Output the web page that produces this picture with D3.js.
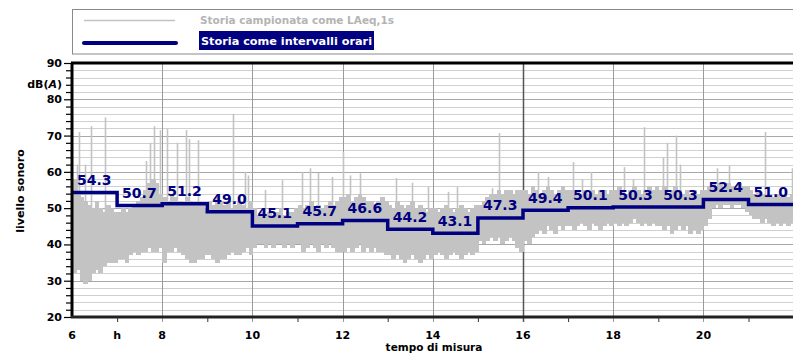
<!DOCTYPE html>
<html>
<head>
<meta charset="utf-8">
<script src="https://cdn.jsdelivr.net/npm/d3@7"></script>
<style>
  html, body { margin: 0; padding: 0; background: #fff; }
  svg { display: block; }
  text { font-family: "DejaVu Sans", Verdana, sans-serif; font-weight: bold; }
</style>
</head>
<body>
<script>
// Hourly equivalent levels, dB(A), one per hour starting at 6h
const hourStarts = [6, 7, 8, 9, 10, 11, 12, 13, 14, 15, 16, 17, 18, 19, 20, 21];
const hourlyLeq = [54.3, 50.7, 51.2, 49.0, 45.1, 45.7, 46.6, 44.2, 43.1, 47.3, 49.4, 50.1, 50.3, 50.3, 52.4, 51.0];

// 1 s history summarised in 5-minute slices: upper and lower envelope (dB)
const bandHigh = [
  58, 54, 53, 52, 51, 50, 52, 50, 49, 51, 50, 49,
  49, 50, 49, 50, 51, 52, 53, 55, 57, 58, 57, 54,
  53, 52, 54, 53, 52, 51, 53, 52, 51, 52, 51, 50,
  52, 51, 53, 52, 51, 52, 50, 51, 52, 51, 50, 52,
  50, 48, 49, 48, 49, 48, 49, 50, 48, 49, 49, 50,
  51, 50, 51, 52, 50, 51, 50, 51, 52, 51, 52, 53,
  53, 54, 52, 53, 54, 53, 52, 52, 51, 52, 53, 52,
  51, 50, 52, 51, 50, 51, 52, 50, 51, 50, 49, 50,
  50, 49, 50, 51, 50, 49, 50, 51, 50, 49, 50, 51,
  51, 52, 53, 54, 54, 55, 54, 55, 55, 54, 55, 55,
  55, 54, 56, 55, 54, 55, 56, 55, 54, 55, 56, 55,
  55, 54, 55, 54, 55, 54, 55, 54, 55, 55, 54, 55,
  55, 56, 55, 54, 55, 56, 55, 54, 55, 56, 55, 56,
  55, 56, 54, 55, 56, 55, 54, 55, 54, 55, 54, 55,
  55, 56, 57, 56, 57, 56, 57, 56, 56, 57, 56, 56,
  55, 54, 55, 54, 53, 54, 53, 54, 53, 54, 53, 54
];
const bandLow = [
  32, 33, 30, 29, 30, 32, 33, 32, 34, 35, 35, 35,
  36, 36, 35, 37, 38, 37, 38, 38, 39, 38, 38, 39,
  35, 38, 38, 39, 38, 37, 36, 35, 35, 36, 36, 37,
  37, 36, 35, 36, 36, 37, 38, 37, 37, 38, 39, 37,
  39, 40, 40, 39, 40, 39, 40, 40, 39, 40, 39, 40,
  40, 38, 39, 40, 39, 38, 40, 39, 40, 39, 38, 38,
  38, 39, 38, 39, 40, 38, 39, 38, 39, 38, 38, 37,
  37, 36, 37, 36, 35, 36, 37, 36, 35, 36, 37, 36,
  37, 38, 37, 36, 37, 38, 37, 36, 37, 38, 37, 38,
  41, 40, 41, 42, 41, 42, 40, 41, 42, 41, 39, 38,
  41, 40, 42, 43, 44, 43, 45, 44, 43, 45, 44, 45,
  45, 44, 45, 46, 45, 44, 46, 45, 44, 45, 46, 45,
  46, 45, 46, 45, 46, 47, 46, 45, 46, 45, 46, 45,
  45, 44, 45, 43, 44, 45, 44, 45, 43, 44, 43, 44,
  45, 47, 50, 51, 50, 51, 51, 50, 51, 51, 50, 49,
  48, 47, 47, 46, 47, 46, 45, 46, 45, 46, 45, 46
];

// Short loud events in the 1 s history (time in hours, level in dB)
const spikeTimes = [6.04, 6.11, 6.155, 6.29, 6.42, 6.73, 7.64, 7.73, 7.82, 7.95, 8.11, 8.33, 8.53, 8.59, 8.79,
  9.57, 9.84, 9.90, 10.28, 10.66, 11.10, 11.28, 11.45, 11.76, 12.01, 12.16, 12.39, 13.18, 13.54, 13.89,
  14.34, 14.54, 15.31, 15.47, 16.33, 16.55, 17.11, 17.31, 17.51, 18.24, 18.44, 18.68, 19.10, 19.19,
  19.39, 19.48, 20.30, 20.57, 21.37, 21.96];
const spikeLevels = [58, 62, 71, 62, 72.6, 75, 63, 68, 72.6, 71.5, 71.8, 68, 71.5, 69, 68.7,
  76, 60, 59, 55, 57.7, 60, 61, 59.7, 58.6, 65.5, 59, 59.6, 58.3, 57, 56,
  54.5, 55.8, 55.5, 70.7, 60, 58.6, 62.7, 58, 60, 61.3, 58, 72.3, 64, 68,
  70, 62, 61, 61.8, 71, 61];

// Axis ticks
const yTickValues = [20, 30, 40, 50, 60, 70, 80, 90];
const xTickValues = [6, 7, 8, 10, 12, 14, 16, 18, 20];
const xTickLabels = ["6", "h", "8", "10", "12", "14", "16", "18", "20"];

const W = 793, H = 354;
const plotLeft = 72, plotRight = 793.6, plotTop = 63, plotBottom = 317;

const svg = d3.select("body").append("svg").attr("width", W).attr("height", H);

const x = d3.scaleLinear().domain([6, 22]).range([plotLeft, plotRight]);
const y = d3.scaleLinear().domain([20, 90]).range([plotBottom, plotTop]);

svg.append("defs").append("clipPath").attr("id", "plot")
  .append("rect").attr("x", plotLeft).attr("y", plotTop).attr("width", W - plotLeft).attr("height", plotBottom - plotTop);

// Grid
const grid = svg.append("g");
grid.selectAll("line.hy").data(d3.range(22, 90, 2).filter(v => v % 10 !== 0))
  .join("line")
  .attr("x1", plotLeft).attr("x2", W)
  .attr("y1", d => Math.round(y(d)) + 0.5).attr("y2", d => Math.round(y(d)) + 0.5)
  .attr("stroke", "#d0d0d0").attr("stroke-width", 1);
grid.selectAll("line.hy10").data(yTickValues.slice(1, -1))
  .join("line")
  .attr("x1", plotLeft).attr("x2", W)
  .attr("y1", d => Math.round(y(d)) + 0.5).attr("y2", d => Math.round(y(d)) + 0.5)
  .attr("stroke", "#a8a8a8").attr("stroke-width", 1);
grid.selectAll("line.vx").data(d3.range(8, 22, 2))
  .join("line")
  .attr("x1", d => Math.round(x(d)) + 0.5).attr("x2", d => Math.round(x(d)) + 0.5)
  .attr("y1", plotTop).attr("y2", plotBottom + 5)
  .attr("stroke", d => d === 16 ? "#555" : "#9a9a9a")
  .attr("stroke-width", d => d === 16 ? 1.5 : 1);

// 1 s history: envelope slices and spikes
const hist = svg.append("g").attr("clip-path", "url(#plot)");
hist.selectAll("rect").data(bandHigh)
  .join("rect")
  .attr("shape-rendering", "crispEdges")
  .attr("x", (d, i) => x(6 + i / 12))
  .attr("width", (d, i) => x(6 + (i + 1) / 12) - x(6 + i / 12) + 1)
  .attr("y", d => y(d))
  .attr("height", (d, i) => y(bandLow[i]) - y(d))
  .attr("fill", "#c3c3c3");
hist.selectAll("line").data(spikeTimes)
  .join("line")
  .attr("x1", d => Math.round(x(d)) + 0.5).attr("x2", d => Math.round(x(d)) + 0.5)
  .attr("y1", (d, i) => y(spikeLevels[i]))
  .attr("y2", (d, i) => y(d3.min([bandHigh[Math.floor((d - 6) * 12)], spikeLevels[i]])) + 2)
  .attr("stroke", "#c3c3c3").attr("stroke-width", 1.6);

// Hourly step line
const stepData = hourStarts.map((h, i) => [h, hourlyLeq[i]]).concat([[22, hourlyLeq[hourlyLeq.length - 1]]]);
svg.append("path")
  .attr("clip-path", "url(#plot)")
  .attr("d", d3.line().x(d => x(d[0])).y(d => y(d[1])).curve(d3.curveStepAfter)(stepData))
  .attr("fill", "none").attr("stroke", "#000080").attr("stroke-width", 3.5);

svg.append("g").selectAll("text").data(hourlyLeq)
  .join("text")
  .attr("x", (d, i) => x(hourStarts[i]) + 5)
  .attr("y", d => y(d) - 7.5)
  .attr("fill", "#000080").attr("font-size", 14)
  .text(d => d.toFixed(1));

// Frame
svg.append("line").attr("x1", plotLeft - 1).attr("x2", W).attr("y1", plotTop).attr("y2", plotTop)
  .attr("stroke", "#000").attr("stroke-width", 3);
svg.append("line").attr("x1", plotLeft).attr("x2", plotLeft).attr("y1", plotTop).attr("y2", plotBottom)
  .attr("stroke", "#000").attr("stroke-width", 3);
svg.append("line").attr("x1", plotLeft - 1).attr("x2", W).attr("y1", plotBottom).attr("y2", plotBottom)
  .attr("stroke", "#222").attr("stroke-width", 3);

// Y axis
const yAxis = d3.axisLeft(y).tickValues(d3.range(20, 91, 2)).tickSize(5).tickFormat("");
const gy = svg.append("g").attr("transform", `translate(${plotLeft - 1},0)`).call(yAxis);
gy.select(".domain").remove();
gy.selectAll(".tick line").attr("stroke", "#000").attr("stroke-width", 1.2)
  .attr("x2", d => d % 10 === 0 ? -7 : -5);
svg.append("g").selectAll("text").data(yTickValues)
  .join("text")
  .attr("x", 62).attr("y", d => y(d)).attr("dy", "0.36em")
  .attr("text-anchor", "end").attr("font-size", 11).attr("fill", "#000")
  .text(d => d);
const dbLabel = svg.append("text").attr("x", 62).attr("y", 88).attr("text-anchor", "end")
  .attr("font-size", 11).attr("fill", "#000");
dbLabel.append("tspan").text("dB(");
dbLabel.append("tspan").attr("font-style", "italic").text("A");
dbLabel.append("tspan").text(")");

// X axis
const xAxis = d3.axisBottom(x).tickValues(d3.range(7, 22, 2)).tickSize(5).tickFormat("");
const gx = svg.append("g").attr("transform", `translate(0,${plotBottom})`).call(xAxis);
gx.select(".domain").remove();
gx.selectAll(".tick line").attr("stroke", "#333").attr("stroke-width", 1);
svg.append("g").selectAll("text").data(xTickValues)
  .join("text")
  .attr("x", d => x(d)).attr("y", 338.5)
  .attr("text-anchor", "middle").attr("font-size", 11).attr("fill", "#000")
  .text((d, i) => xTickLabels[i]);

svg.append("text").attr("x", 434).attr("y", 351.3).attr("text-anchor", "middle")
  .attr("font-size", 10.5).attr("fill", "#000").text("tempo di misura");
svg.append("text").attr("transform", "translate(24,191) rotate(-90)")
  .attr("text-anchor", "middle").attr("font-size", 11).attr("fill", "#000").text("livello sonoro");

// Legend
const lg = svg.append("g");
lg.append("rect").attr("x", 72.5).attr("y", 9.5).attr("width", 730).attr("height", 44.5)
  .attr("fill", "#fff").attr("stroke", "#8a8a8a").attr("stroke-width", 1);
lg.append("line").attr("x1", 84).attr("x2", 175).attr("y1", 20.5).attr("y2", 20.5)
  .attr("stroke", "#c3c3c3").attr("stroke-width", 1.5);
lg.append("line").attr("x1", 84).attr("x2", 176).attr("y1", 43).attr("y2", 43)
  .attr("stroke", "#000080").attr("stroke-width", 4).attr("stroke-linecap", "round");
lg.append("text").attr("x", 200).attr("y", 24).attr("font-size", 11).attr("fill", "#b4b4b4")
  .attr("textLength", 194).attr("lengthAdjust", "spacingAndGlyphs")
  .text("Storia campionata come LAeq,1s");
lg.append("rect").attr("x", 199).attr("y", 31).attr("width", 175).attr("height", 19).attr("fill", "#000080");
lg.append("text").attr("x", 201).attr("y", 45).attr("font-size", 11).attr("fill", "#fff")
  .attr("textLength", 171).attr("lengthAdjust", "spacingAndGlyphs")
  .text("Storia come intervalli orari");
</script>
</body>
</html>
